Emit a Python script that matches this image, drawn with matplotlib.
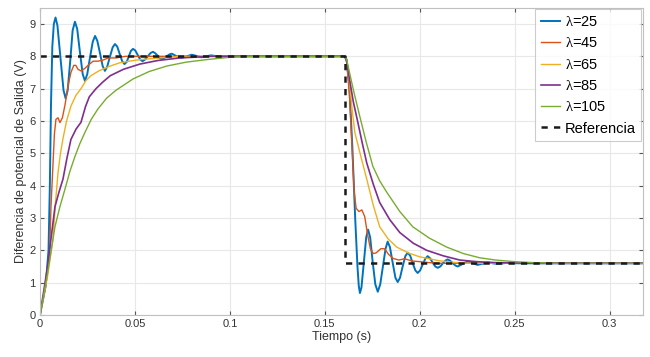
import numpy as np
import matplotlib
matplotlib.use('Agg')
import matplotlib.pyplot as plt

plt.rcParams['font.family'] = ['Liberation Sans', 'DejaVu Sans']
plt.rcParams['mathtext.fontset'] = 'custom'
plt.rcParams['mathtext.it'] = 'Liberation Serif'
plt.rcParams['mathtext.rm'] = 'Liberation Sans'

# values: time (s), voltage (V)
t_25 = [0, 0.003, 0.0045, 0.0052, 0.0058, 0.0065, 0.0073, 0.0082, 0.0092, 0.0108, 0.0124, 0.0135,
        0.0146, 0.016, 0.0172, 0.0184, 0.0196, 0.021, 0.0225, 0.0237, 0.0249, 0.0263, 0.0278, 0.029,
        0.0302, 0.0316, 0.033, 0.0342, 0.0354, 0.0368, 0.0383, 0.0395, 0.0407, 0.042, 0.0433, 0.0445,
        0.0457, 0.0468, 0.0479, 0.049, 0.0502, 0.0515, 0.0528, 0.054, 0.0553, 0.0568, 0.0582, 0.0595,
        0.0606, 0.0618, 0.063, 0.064, 0.0655, 0.0668, 0.0682, 0.0695, 0.072, 0.0745, 0.0772, 0.08,
        0.085, 0.09, 0.095, 0.1, 0.1605,
        0.1615, 0.163, 0.1645, 0.166, 0.1672, 0.1679, 0.1685, 0.1693, 0.1706, 0.1718, 0.1728, 0.1739,
        0.1752, 0.1766, 0.1779, 0.1792, 0.1806, 0.182, 0.1831, 0.1843, 0.1858, 0.1872, 0.1884, 0.1896,
        0.191, 0.1924, 0.1937, 0.195, 0.1963, 0.1977, 0.1989, 0.2002, 0.2016, 0.203, 0.2042, 0.2055,
        0.2068, 0.2082, 0.2095, 0.2108, 0.2122, 0.2135, 0.2147, 0.216, 0.2174, 0.2188, 0.22, 0.2227,
        0.2253, 0.2279, 0.2305, 0.2332, 0.2358, 0.2384, 0.241, 0.2455, 0.25, 0.3175]
v_25 = [0, 0.9, 2.0, 4.0, 6.5, 8.3, 9.0, 9.2, 8.95, 7.95, 6.95, 6.7,
        6.95, 7.9, 8.8, 9.07, 8.85, 8.15, 7.45, 7.24, 7.45, 7.95, 8.45, 8.63,
        8.48, 8.1, 7.7, 7.55, 7.68, 7.98, 8.28, 8.38, 8.3, 8.07, 7.85, 7.76,
        7.83, 8.0, 8.17, 8.23, 8.18, 8.04, 7.9, 7.85, 7.9, 8.0, 8.1, 8.14,
        8.1, 8.03, 7.95, 7.92, 7.95, 8.0, 8.06, 8.08, 8.0, 7.95, 8.0, 8.05,
        7.97, 8.03, 7.99, 8.0, 8.0,
        7.9, 7.0, 5.2, 3.0, 1.5, 0.9, 0.68, 0.85, 1.65, 2.4, 2.64, 2.4,
        1.65, 0.95, 0.72, 0.95, 1.5, 2.05, 2.27, 2.1, 1.6, 1.15, 1.02, 1.15,
        1.5, 1.82, 1.93, 1.83, 1.6, 1.38, 1.3, 1.38, 1.57, 1.75, 1.82, 1.75,
        1.62, 1.5, 1.46, 1.5, 1.6, 1.68, 1.72, 1.68, 1.6, 1.53, 1.5, 1.58,
        1.66, 1.6, 1.55, 1.59, 1.63, 1.6, 1.58, 1.61, 1.6, 1.6]

t_45 = [0, 0.003, 0.005, 0.0058, 0.0068, 0.0076, 0.0084, 0.0095, 0.0105, 0.0118, 0.0132, 0.0148,
        0.0163, 0.0178, 0.0189, 0.02, 0.0216, 0.0235, 0.0253, 0.028, 0.0305, 0.033, 0.036, 0.04,
        0.045, 0.1605,
        0.1615, 0.163, 0.1645, 0.1655, 0.1665, 0.168, 0.1695, 0.171, 0.1725, 0.174, 0.1755, 0.177,
        0.1795, 0.1815, 0.1835, 0.186, 0.189, 0.192, 0.196, 0.2, 0.205, 0.21, 0.3175]
v_45 = [0, 0.9, 1.8, 3.35, 4.6, 5.6, 6.05, 6.1, 5.95, 6.1, 6.5, 7.1,
        7.5, 7.72, 7.72, 7.6, 7.55, 7.62, 7.72, 7.85, 7.85, 7.88, 7.95, 7.95,
        8.0, 8.0,
        7.85, 6.8, 5.0, 3.8, 3.3, 3.2, 3.25, 3.05, 2.5, 2.05, 1.9, 1.92,
        2.05, 2.05, 1.88, 1.75, 1.7, 1.74, 1.67, 1.65, 1.62, 1.6, 1.6]

t_65 = [0, 0.004, 0.0068, 0.0082, 0.0095, 0.0108, 0.0121, 0.014, 0.0163, 0.019, 0.0216, 0.0242,
        0.0268, 0.031, 0.037, 0.042, 0.047, 0.053, 0.059, 0.067, 0.075, 0.1605,
        0.1615, 0.163, 0.1645, 0.1658, 0.169, 0.1721, 0.1755, 0.1789, 0.1834, 0.1879, 0.194, 0.2,
        0.21, 0.2175, 0.225, 0.3175]
v_65 = [0, 1.2, 2.33, 3.5, 4.4, 5.0, 5.45, 6.0, 6.46, 6.8, 7.0, 7.25,
        7.4, 7.55, 7.7, 7.8, 7.85, 7.9, 7.93, 7.97, 8.0, 8.0,
        7.85, 7.2, 6.3, 5.65, 4.9, 4.2, 3.4, 2.73, 2.35, 2.1, 1.92, 1.8,
        1.68, 1.63, 1.6, 1.6]

t_85 = [0, 0.004, 0.0079, 0.01, 0.0121, 0.0142, 0.0163, 0.019, 0.0216, 0.024, 0.026, 0.0295,
        0.033, 0.037, 0.044, 0.0526, 0.062, 0.0737, 0.09, 0.1605,
        0.1615, 0.163, 0.165, 0.1674, 0.1698, 0.1721, 0.1755, 0.1789, 0.1842, 0.1895, 0.1966,
        0.2037, 0.2124, 0.2211, 0.23, 0.24, 0.26, 0.3175]
v_85 = [0, 1.5, 3.35, 3.8, 4.2, 4.85, 5.43, 5.75, 5.96, 6.45, 6.75, 7.0,
        7.2, 7.4, 7.6, 7.76, 7.87, 7.95, 8.0, 8.0,
        7.85, 7.3, 6.6, 5.96, 5.3, 4.7, 4.05, 3.48, 2.95, 2.55, 2.22,
        2.0, 1.83, 1.7, 1.65, 1.62, 1.6, 1.6]

t_105 = [0, 0.004, 0.0079, 0.0105, 0.0132, 0.0158, 0.0184, 0.021, 0.0237, 0.027, 0.0305, 0.035,
         0.04, 0.049, 0.0575, 0.0668, 0.077, 0.088, 0.1, 0.11, 0.1605,
         0.1615, 0.163, 0.1655, 0.1684, 0.1718, 0.1753, 0.1789, 0.1826, 0.1895, 0.1963, 0.205,
         0.2142, 0.223, 0.2316, 0.24, 0.25, 0.26, 0.27, 0.3175]
v_105 = [0, 1.3, 2.73, 3.35, 3.9, 4.45, 4.9, 5.3, 5.65, 6.05, 6.37, 6.7,
         6.95, 7.3, 7.53, 7.7, 7.82, 7.9, 7.97, 8.0, 8.0,
         7.9, 7.5, 6.85, 6.15, 5.35, 4.6, 4.15, 3.8, 3.2, 2.73, 2.38,
         2.1, 1.9, 1.77, 1.7, 1.65, 1.62, 1.6, 1.6]

t_ref = [0, 0.1605, 0.1605, 0.3175]
v_ref = [8, 8, 1.6, 1.6]

series = [(t_25, v_25, '$\\lambda$=25', '#0072BD', 1.4),
          (t_45, v_45, '$\\lambda$=45', '#D95319', 1.0),
          (t_65, v_65, '$\\lambda$=65', '#EDB120', 1.0),
          (t_85, v_85, '$\\lambda$=85', '#7E2F8E', 1.2),
          (t_105, v_105, '$\\lambda$=105', '#77AC30', 1.0)]

fig = plt.figure(figsize=(6.5, 3.57), dpi=100)
ax = fig.add_axes([0.0615, 0.1176, 0.9275, 0.8605])

for t, v, lab, c, lw in series:
    ax.plot(t, v, color=c, lw=lw, label=lab)
ax.plot(t_ref, v_ref, color='#1a1a1a', lw=1.8, ls=(0, (2.5, 2.5)), label='Referencia')

ax.set_xlim(0, 0.3175)
ax.set_ylim(0, 9.5)
ax.set_xticks([0, 0.05, 0.1, 0.15, 0.2, 0.25, 0.3])
ax.set_xticklabels(['0', '0.05', '0.1', '0.15', '0.2', '0.25', '0.3'])
ax.set_yticks(range(10))
ax.grid(True, color='#e8e8e8', lw=0.8)
ax.set_axisbelow(True)
ax.tick_params(direction='in', top=True, right=True, labelsize=8, colors='#555555',
               labelcolor='#333333', length=3, pad=3)
for s in ax.spines.values():
    s.set_color('#c0c0c0')
    s.set_linewidth(0.8)

ax.set_xlabel('Tiempo (s)', fontsize=9, color='#333333', labelpad=1)
ax.set_ylabel('Diferencia de potencial de Salida (V)', fontsize=9, color='#333333', labelpad=2)

leg = ax.legend(loc='upper right', fontsize=10.5, frameon=True, fancybox=False,
                handlelength=1.3, handletextpad=0.3, labelspacing=0.5,
                borderpad=0.4, borderaxespad=0.1)
leg.get_frame().set_edgecolor('#c0c0c0')
leg.get_frame().set_linewidth(0.8)

fig.savefig('out.png', dpi=100)
